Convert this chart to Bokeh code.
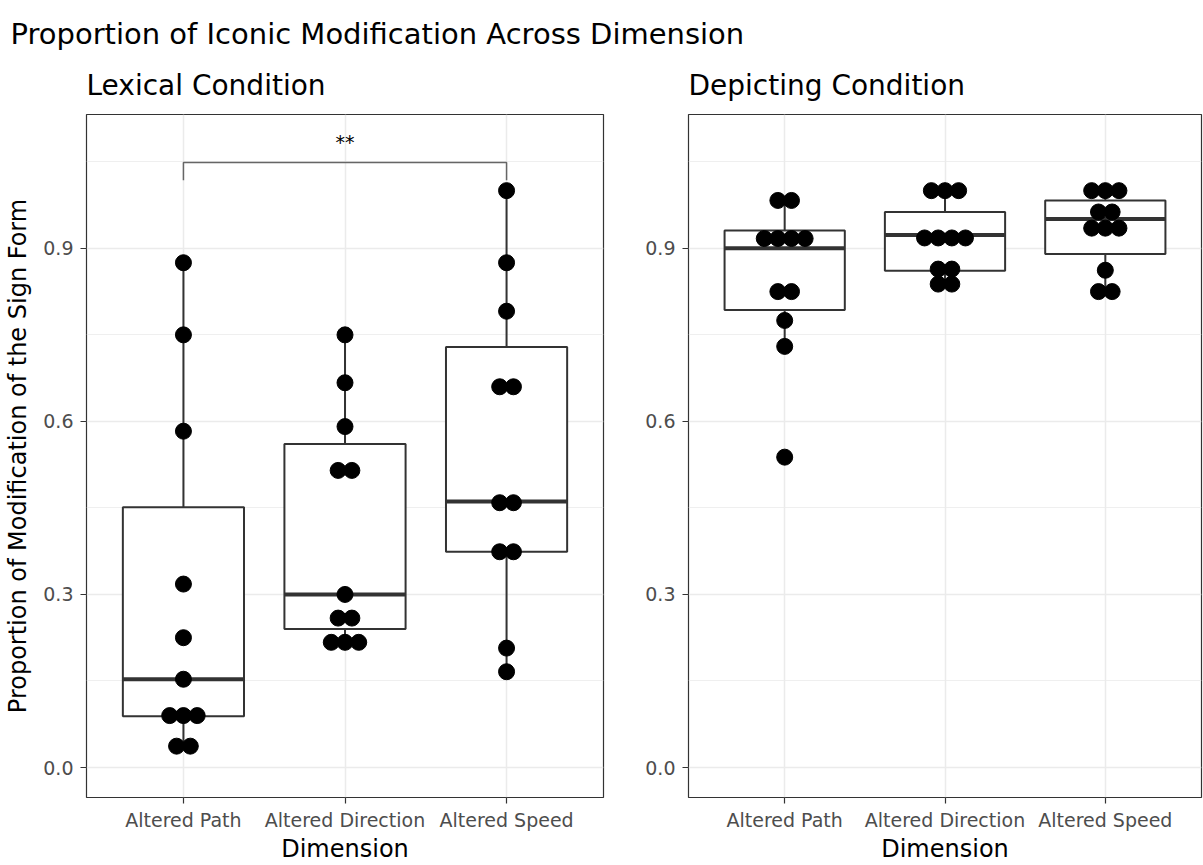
from collections import Counter

from bokeh.core.properties import value
from bokeh.embed import file_html
from bokeh.layouts import column, row
from bokeh.models import FixedTicker, Label, PrintfTickFormatter, Range1d
from bokeh.plotting import figure
from bokeh.resources import INLINE

# ---------------- data ----------------
categories = ["Altered Path", "Altered Direction", "Altered Speed"]

# individual participant proportions (dot positions)
lexical_path = [0.875, 0.750, 0.583, 0.318, 0.225, 0.153, 0.090, 0.090, 0.090, 0.037, 0.037]
lexical_direction = [0.750, 0.667, 0.591, 0.515, 0.515, 0.300, 0.259, 0.259, 0.217, 0.217, 0.217]
lexical_speed = [1.000, 0.875, 0.791, 0.660, 0.660, 0.459, 0.459, 0.374, 0.374, 0.207, 0.166]

depicting_path = [0.983, 0.983, 0.917, 0.917, 0.917, 0.917, 0.825, 0.825, 0.775, 0.730, 0.538]
depicting_direction = [1.000, 1.000, 1.000, 0.918, 0.918, 0.918, 0.918, 0.864, 0.864, 0.838, 0.838]
depicting_speed = [1.000, 1.000, 1.000, 0.963, 0.963, 0.935, 0.935, 0.935, 0.862, 0.825, 0.825]

# box-plot statistics per category (Path, Direction, Speed)
lex_lower = [0.037, 0.217, 0.166]
lex_q1 = [0.089, 0.240, 0.374]
lex_median = [0.153, 0.300, 0.461]
lex_q3 = [0.451, 0.561, 0.729]
lex_upper = [0.875, 0.750, 1.000]

dep_lower = [0.730, 0.838, 0.825]
dep_q1 = [0.793, 0.861, 0.890]
dep_median = [0.900, 0.923, 0.951]
dep_q3 = [0.931, 0.963, 0.983]
dep_upper = [0.983, 1.000, 1.000]

y_ticks = [0.0, 0.3, 0.6, 0.9]
y_minor = [0.15, 0.45, 0.75, 1.05]

# significance bracket (lexical: Path vs Speed)
sig_pair = (0, 2)
sig_label = "**"
sig_y = 1.049
sig_tip = 0.031
sig_text_y = 1.084

# ---------------- style ----------------
FONT = "DejaVu Sans"
DARK = "#333333"
GRID = "#ebebeb"
BOX_W = 0.75
DOT_DX = 0.085
DOT_SIZE = 16
PANEL_H = 815


def stacked(values_list, idx):
    counts = Counter(values_list)
    xs, ys = [], []
    for v, n in counts.items():
        for i in range(n):
            xs.append(idx + 1 + (i - (n - 1) / 2) * DOT_DX)
            ys.append(v)
    return xs, ys


def make_panel(title, width, mbl, mbr, dots, lower, q1, med, q3, upper, ylabel, sig=False):
    p = figure(width=width, height=PANEL_H,
               x_range=Range1d(0.4, 3.6), y_range=Range1d(-0.052, 1.132),
               toolbar_location=None, output_backend="svg",
               min_border_left=mbl, min_border_right=mbr,
               min_border_top=64, min_border_bottom=68,
               background_fill_color="white", border_fill_color="white")
    p.title.text = title
    p.title.align = "left"
    p.title.text_font = FONT
    p.title.text_font_size = "28px"
    p.title.text_font_style = "normal"
    p.title.text_color = "black"
    p.title.standoff = 26

    p.outline_line_color = DARK
    p.outline_line_width = 1.2

    xt = FixedTicker(ticks=[1, 2, 3])
    p.xaxis.ticker = xt
    p.xaxis.major_label_overrides = {i + 1: c for i, c in enumerate(categories)}
    p.yaxis.ticker = FixedTicker(ticks=y_ticks, minor_ticks=y_minor)
    p.yaxis.formatter = PrintfTickFormatter(format="%.1f")

    for ax in (p.xaxis[0], p.yaxis[0]):
        ax.axis_line_color = None
        ax.major_tick_line_color = DARK
        ax.major_tick_line_width = 1.2
        ax.major_tick_out = 6
        ax.major_tick_in = 0
        ax.minor_tick_line_color = None
        ax.major_label_text_font = FONT
        ax.major_label_text_font_size = "19px"
        ax.major_label_text_color = "#4d4d4d"
        ax.major_label_standoff = 7
        ax.axis_label_text_font = FONT
        ax.axis_label_text_font_size = "24px"
        ax.axis_label_text_font_style = "normal"
        ax.axis_label_text_color = "black"

    p.xaxis.axis_label = "Dimension"
    p.xaxis.major_label_standoff = 5
    p.xaxis.axis_label_standoff = 1
    if ylabel:
        p.yaxis.axis_label = ylabel
        p.yaxis.axis_label_standoff = 8

    p.xgrid.grid_line_color = GRID
    p.xgrid.grid_line_width = 1.5
    p.ygrid.grid_line_color = GRID
    p.ygrid.grid_line_width = 1.5
    p.ygrid.minor_grid_line_color = GRID
    p.ygrid.minor_grid_line_width = 0.8

    xs = [i + 1 for i in range(len(categories))]
    p.segment(x0=xs, y0=q3, x1=xs, y1=upper, line_color=DARK, line_width=2)
    p.segment(x0=xs, y0=lower, x1=xs, y1=q1, line_color=DARK, line_width=2)
    p.vbar(x=xs, width=BOX_W, bottom=q1, top=q3, fill_color="white",
           line_color=DARK, line_width=2)
    p.segment(x0=[x - BOX_W / 2 for x in xs], y0=med,
              x1=[x + BOX_W / 2 for x in xs], y1=med,
              line_color=DARK, line_width=4)

    for idx, vals in enumerate(dots):
        dx, dy = stacked(vals, idx)
        p.scatter(x=dx, y=dy, size=DOT_SIZE, fill_color="black", line_color="black")

    if sig:
        a, b = sig_pair[0] + 1, sig_pair[1] + 1
        p.line(x=[a, a, b, b], y=[sig_y - sig_tip, sig_y, sig_y, sig_y - sig_tip],
               line_color="#666666", line_width=1.5)
        p.text(x=[(a + b) / 2], y=[sig_text_y], text=[sig_label],
               text_font=value(FONT), text_font_size="19px",
               text_align="center", text_baseline="middle", text_color="black")
    return p


W1 = 636
left = make_panel("Lexical Condition", W1, 86, W1 - 603,
                  [lexical_path, lexical_direction, lexical_speed],
                  lex_lower, lex_q1, lex_median, lex_q3, lex_upper,
                  "Proportion of Modification of the Sign Form", sig=True)
right = make_panel("Depicting Condition", 1203 - W1, 688 - W1, 2,
                   [depicting_path, depicting_direction, depicting_speed],
                   dep_lower, dep_q1, dep_median, dep_q3, dep_upper, None)

tf = figure(width=1203, height=50, x_range=Range1d(0, 1203), y_range=Range1d(0, 50),
            toolbar_location=None, output_backend="svg", min_border=0,
            x_axis_location=None, y_axis_location=None,
            background_fill_color="white", border_fill_color="white")
tf.grid.visible = False
tf.outline_line_color = None
tf.add_layout(Label(x=10, y=50 - 33.5, text="Proportion of Iconic Modification Across Dimension",
                    text_font=FONT, text_font_size="29px", text_baseline="alphabetic",
                    text_color="black"))

layout = column(tf, row(left, right, spacing=0), spacing=0)
open("out.html", "w").write(file_html(layout, INLINE))
